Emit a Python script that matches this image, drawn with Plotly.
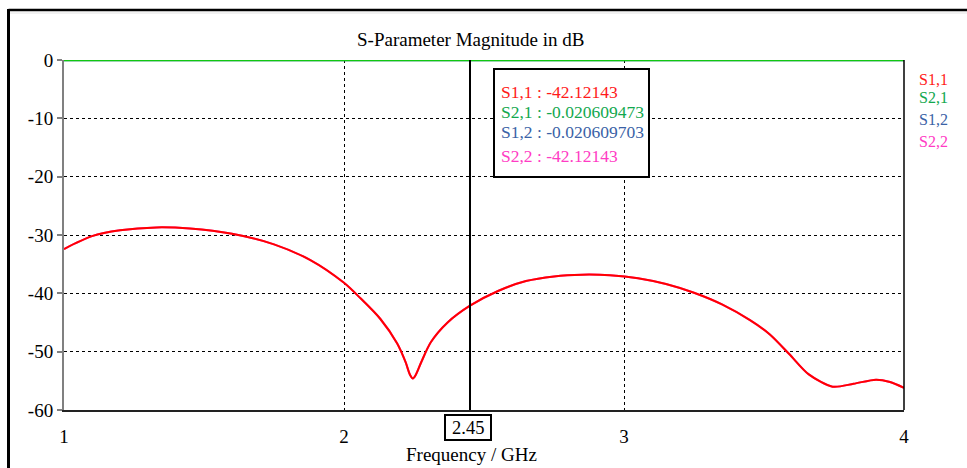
import plotly.graph_objects as go

# Frequency sweep (GHz) and reflection magnitude |S11| in dB
freq_s11 = [1.00, 1.10, 1.20, 1.33, 1.45, 1.60, 1.75, 1.88, 2.00, 2.06, 2.13, 2.19, 2.22,
            2.236, 2.246, 2.256, 2.275, 2.31, 2.37, 2.45, 2.55, 2.65, 2.75, 2.85, 2.95, 3.05,
            3.15, 3.25, 3.35, 3.45, 3.52, 3.59, 3.66, 3.745, 3.82, 3.90, 3.95, 4.00]
s11_db = [-32.4, -30.2, -29.2, -28.7, -28.9, -29.8, -31.6, -34.3, -38.2, -40.9, -44.4, -48.6, -51.8,
          -54.0, -54.6, -54.0, -51.9, -48.4, -45.0, -42.12143, -39.6, -37.9, -37.1, -36.8, -36.9, -37.4,
          -38.4, -39.9, -41.9, -44.6, -47.0, -50.4, -53.9, -56.0, -55.5, -54.8, -55.2, -56.2]

# Transmission is essentially lossless across the band
freq_s21 = [1.0, 2.0, 2.45, 3.0, 4.0]
s21_db = [-0.02, -0.02, -0.020609473, -0.02, -0.02]
s12_db = [-0.02, -0.02, -0.020609703, -0.02, -0.02]

marker_freq = 2.45
marker_names = ["S1,1", "S2,1", "S1,2", "S2,2"]
marker_values = ["-42.12143", "-0.020609473", "-0.020609703", "-42.12143"]

trace_names = ["S1,1", "S2,1", "S1,2", "S2,2"]
text_colors = ["#ff1a1a", "#12a84e", "#3a62a6", "#ff3cc4"]

x_ticks = [1, 2, 3, 4]
y_ticks = [0, -10, -20, -30, -40, -50, -60]

SERIF = "Liberation Serif, Times New Roman, serif"

# Plot area geometry (pixels) for converting to paper coordinates
W, H = 967, 468
L, R, T, B = 64, 904, 60, 410


def px(xp):
    return (xp - L) / (R - L)


def py(yp):
    return (B - yp) / (B - T)


fig = go.Figure()

# S2,2 and S1,2 lie under S1,1 and S2,1
fig.add_trace(go.Scatter(x=freq_s11, y=s11_db, mode="lines", name="S2,2",
                         line=dict(color="#ff3cc4", width=2, shape="spline", smoothing=0.8)))
fig.add_trace(go.Scatter(x=freq_s11, y=s11_db, mode="lines", name="S1,1",
                         line=dict(color="#ff0000", width=2, shape="spline", smoothing=0.8)))
fig.add_trace(go.Scatter(x=freq_s21, y=s12_db, mode="lines", name="S1,2",
                         line=dict(color="#3a62a6", width=2.5)))
fig.add_trace(go.Scatter(x=freq_s21, y=s21_db, mode="lines", name="S2,1",
                         line=dict(color="#10c810", width=2.5)))

shapes = [
    # marker line
    dict(type="line", xref="x", yref="y", x0=marker_freq, x1=marker_freq, y0=-60, y1=0,
         line=dict(color="black", width=2)),
    # right border of plot area
    dict(type="line", xref="paper", yref="paper", x0=1, x1=1, y0=0, y1=1,
         line=dict(color="black", width=1.5)),
    # marker readout box
    dict(type="rect", xref="paper", yref="paper", x0=px(494), x1=px(649), y0=py(69), y1=py(177),
         line=dict(color="black", width=2), fillcolor="white"),
    # marker frequency box on the x axis
    dict(type="rect", xref="paper", yref="paper", x0=px(445), x1=px(491), y0=py(415), y1=py(440),
         line=dict(color="black", width=2), fillcolor="white"),
    # window frame
    dict(type="line", xref="paper", yref="paper", x0=px(8.5), x1=px(967), y0=py(10), y1=py(10),
         line=dict(color="black", width=2.5)),
    dict(type="line", xref="paper", yref="paper", x0=px(10), x1=px(967), y0=py(13), y1=py(13),
         line=dict(color="#e4e4e4", width=1)),
    dict(type="line", xref="paper", yref="paper", x0=px(8.5), x1=px(8.5), y0=py(9), y1=py(468),
         line=dict(color="black", width=3)),
]

annotations = [
    dict(text="S-Parameter Magnitude in dB", xref="paper", yref="paper", x=px(470), y=py(40),
         showarrow=False, font=dict(family=SERIF, size=19, color="black"),
         xanchor="center", yanchor="middle"),
    dict(text="Frequency / GHz", xref="paper", yref="paper", x=px(471), y=py(454),
         showarrow=False, font=dict(family=SERIF, size=19, color="black"),
         xanchor="center", yanchor="middle"),
    dict(text=f"{marker_freq:.2f}", xref="paper", yref="paper", x=px(468), y=py(428),
         showarrow=False, font=dict(family=SERIF, size=18.5, color="black"),
         xanchor="center", yanchor="middle"),
]

# trace labels at the right side
for name, col, yp in zip(trace_names, text_colors, [79, 98, 119, 141]):
    annotations.append(dict(text=name, xref="paper", yref="paper", x=px(917), y=py(yp),
                            showarrow=False, font=dict(family=SERIF, size=16, color=col),
                            xanchor="left", yanchor="middle"))

# marker readout lines
for name, val, col, yp in zip(marker_names, marker_values, text_colors, [92, 112, 132, 156]):
    annotations.append(dict(text=f"{name} : {val}", xref="paper", yref="paper", x=px(499), y=py(yp),
                            showarrow=False, font=dict(family=SERIF, size=17.5, color=col),
                            xanchor="left", yanchor="middle"))

fig.update_layout(
    width=W, height=H,
    margin=dict(l=L, r=W - R, t=T, b=H - B, pad=0),
    paper_bgcolor="white", plot_bgcolor="white",
    showlegend=False,
    shapes=shapes,
    annotations=annotations,
    font=dict(family=SERIF, size=19, color="black"),
)

fig.update_xaxes(
    range=[1, 4], tickvals=x_ticks, ticktext=[str(v) for v in x_ticks],
    showgrid=True, gridcolor="black", griddash="3px,3px", gridwidth=1,
    showline=True, linecolor="#222222", linewidth=1.5,
    ticks="", ticklabelstandoff=8, zeroline=False,
    tickfont=dict(family=SERIF, size=19, color="black"),
)
fig.update_yaxes(
    range=[-60, 0], tickvals=y_ticks, ticktext=[str(v) for v in y_ticks],
    showgrid=True, gridcolor="black", griddash="3px,3px", gridwidth=1,
    showline=True, linecolor="#808080", linewidth=2,
    ticks="outside", ticklen=5, tickcolor="#808080", tickwidth=1.5, zeroline=False,
    tickfont=dict(family=SERIF, size=19, color="black"),
)

fig.write_html("out.html")
